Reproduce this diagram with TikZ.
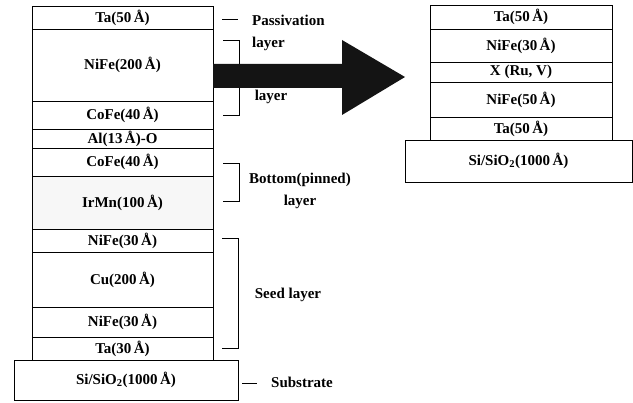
\documentclass[tikz,border=0pt]{standalone}
\usepackage{fontspec}
\setmainfont{Liberation Serif}
\usetikzlibrary{arrows.meta, positioning}

\begin{document}
\begin{tikzpicture}[
    x=1pt, y=-1pt,
    node distance=0pt,
    layer/.style={rectangle, draw=black, line width=0.8pt, outer sep=0pt, inner sep=0pt, minimum width=181pt, align=center, font=\bfseries\fontsize{15}{16}\selectfont},
    subst/.style={layer, minimum width=224pt, minimum height=40pt},
    lbl/.style={inner sep=0pt, font=\bfseries\fontsize{15}{22}\selectfont},
    brk/.style={draw=black, line width=0.8pt},
    bigarrow/.style={fill=black!92}
]
\useasboundingbox (0,0) rectangle (633,403);

% as-deposited MTJ stack
\node[layer, minimum height=23pt, anchor=north west] (ltop) at (32,6) {Ta(50\,Å)};
\node[layer, minimum height=72pt, below=of ltop] (lfree) {NiFe(200\,Å)};
\node[layer, minimum height=28pt, below=of lfree] (lcofe) {CoFe(40\,Å)};
\node[layer, minimum height=19pt, below=of lcofe] (lbar) {Al(13\,Å)-O};
\node[layer, minimum height=28pt, below=of lbar] (lpin) {CoFe(40\,Å)};
\node[layer, minimum height=53pt, fill=black!3, below=of lpin] (lafm) {IrMn(100\,Å)};
\node[layer, minimum height=23pt, below=of lafm] (lseed) {NiFe(30\,Å)};
\node[layer, minimum height=55pt, below=of lseed] (lcu) {Cu(200\,Å)};
\node[layer, minimum height=30pt, below=of lcu] (lnife) {NiFe(30\,Å)};
\node[layer, minimum height=23pt, below=of lnife] (lta) {Ta(30\,Å)};
\node[subst, below=of lta, xshift=3.5pt] (lsub) {Si/SiO\textsubscript{2}(1000\,Å)};

% test stack with spacer X
\node[layer, minimum width=182pt, minimum height=24pt, anchor=north west] (rtop) at (430,5) {Ta(50\,Å)};
\node[layer, minimum width=182pt, minimum height=33pt, below=of rtop] (rfree) {NiFe(30\,Å)};
\node[layer, minimum width=182pt, minimum height=20pt, below=of rfree] (rspacer) {X (Ru, V)};
\node[layer, minimum width=182pt, minimum height=35pt, below=of rspacer] (rnife) {NiFe(50\,Å)};
\node[layer, minimum width=182pt, minimum height=23pt, below=of rnife] (rta) {Ta(50\,Å)};
\node[subst, minimum width=227pt, minimum height=42pt, below=of rta, xshift=-2.5pt] (rsub) {Si/SiO\textsubscript{2}(1000\,Å)};

% brackets and labels
\draw[brk] (222,19) -- (238,19);
\node[lbl, anchor=north west, align=left] (pas) at (252,15) {Passivation\\layer};
\draw[brk] (223,40) -| (239,115) -- (223,115);
\node[lbl] (free) at (271,97) {layer};
\draw[brk] (223,163) -| (239,201) -- (223,201);
\node[lbl, align=center] (pinned) at (300,191) {Bottom(pinned)\\layer};
\draw[brk] (222,238) -| (238,348) -- (222,348);
\node[lbl] (seed) at (288,295) {Seed layer};
\draw[brk] (242,383) -- (257,383);
\node[lbl] (sub) at (302,382) {Substrate};

% big arrow
\fill[bigarrow] (lfree.east |- 0,64) -- (342,64) -- (342,40) -- (405,77) -- (342,115) -- (342,88) -- (lfree.east |- 0,88) -- cycle;

\end{tikzpicture}
\end{document}
